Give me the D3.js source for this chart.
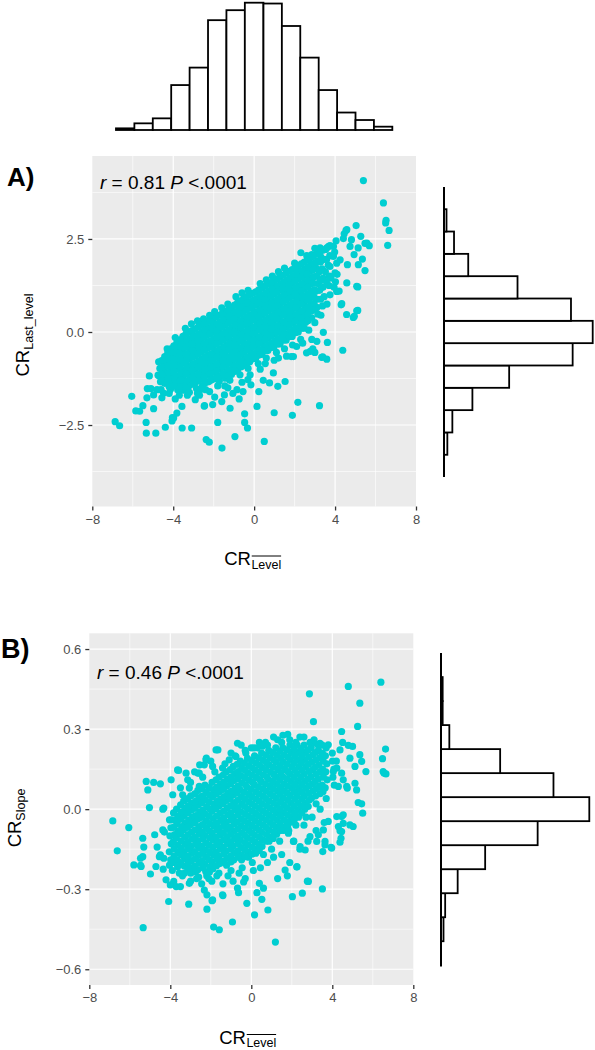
<!DOCTYPE html>
<html><head><meta charset="utf-8">
<script src="https://cdn.jsdelivr.net/npm/d3@7"></script>
<style>body{margin:0;background:#fff}svg{display:block}</style>
</head><body><svg id="c" width="595" height="1050"></svg>
<script>
// ---------- data ----------
const xTicks = [-8, -4, 0, 4, 8];
const xMinor = [-6, -2, 2, 6];
const yTicksA = [-2.5, 0, 2.5];
const yMinorA = [-3.75, -1.25, 1.25, 3.75];
const yTicksB = [-0.6, -0.3, 0, 0.3, 0.6];
const yMinorB = [-0.45, -0.15, 0.15, 0.45];

const topHistEdges = [-6.83,-5.92,-5.01,-4.10,-3.19,-2.28,-1.37,-0.46,0.46,1.37,2.28,3.19,4.10,5.01,5.92,6.83];
const topHistCounts = [2,8,14,54,75,132,144,153,152,125,87,48,21,12,4];

const histACenters = [-3.0,-2.4,-1.8,-1.2,-0.6,0,0.6,1.2,1.8,2.4,3.0];
const histACounts = [4,10,34,78,154,178,152,88,29,12,3];
const histBCenters = [-0.45,-0.36,-0.27,-0.18,-0.09,0,0.09,0.18,0.27,0.36,0.45];
const histBCounts = [3,5,20,53,116,178,135,71,10,2,2];

const annotA = {r: "0.81", p: "<.0001"};
const annotB = {r: "0.46", p: "<.0001"};

// panel A points: CR_Level (x) vs CR_Last_level (y)
const ptsA = [
[-4.72,-0.8],[-4.66,-0.98],[-4.75,-1.16],[-4.63,-1.34],
[-4.42,-0.66],[-4.36,-0.84],[-4.45,-1.02],[-4.38,-1.2],[-4.43,-1.38],
[-4.12,-0.45],[-4.06,-0.63],[-4.14,-0.81],[-4.08,-0.99],[-4.11,-1.17],[-4.05,-1.35],[-4.13,-1.52],
[-3.82,-0.28],[-3.77,-0.46],[-3.84,-0.64],[-3.79,-0.82],[-3.81,-1.0],[-3.76,-1.18],[-3.83,-1.36],[-3.78,-1.55],
[-3.52,-0.12],[-3.47,-0.3],[-3.53,-0.48],[-3.49,-0.66],[-3.51,-0.84],[-3.46,-1.02],[-3.54,-1.2],[-3.48,-1.38],[-3.5,-1.56],
[-3.22,0.0],[-3.17,-0.18],[-3.23,-0.36],[-3.19,-0.54],[-3.21,-0.72],[-3.16,-0.9],[-3.24,-1.08],[-3.18,-1.26],[-3.2,-1.44],
[-2.92,0.08],[-2.87,-0.1],[-2.93,-0.28],[-2.89,-0.46],[-2.91,-0.64],[-2.86,-0.82],[-2.94,-1.0],[-2.88,-1.18],[-2.9,-1.36],[-2.85,-1.52],
[-2.62,0.18],[-2.57,0.0],[-2.63,-0.18],[-2.59,-0.36],[-2.61,-0.54],[-2.56,-0.72],[-2.64,-0.9],[-2.58,-1.08],[-2.6,-1.26],[-2.55,-1.44],
[-2.32,0.28],[-2.27,0.1],[-2.33,-0.08],[-2.29,-0.26],[-2.31,-0.44],[-2.26,-0.62],[-2.34,-0.8],[-2.28,-0.98],[-2.3,-1.16],[-2.25,-1.34],
[-2.02,0.36],[-1.97,0.18],[-2.03,0.0],[-1.99,-0.18],[-2.01,-0.36],[-1.96,-0.54],[-2.04,-0.72],[-1.98,-0.9],[-2.0,-1.08],[-1.95,-1.26],
[-1.72,0.45],[-1.67,0.27],[-1.73,0.09],[-1.69,-0.09],[-1.71,-0.27],[-1.66,-0.45],[-1.74,-0.63],[-1.68,-0.81],[-1.7,-0.99],[-1.65,-1.17],[-1.72,-1.32],
[-1.42,0.55],[-1.37,0.37],[-1.43,0.19],[-1.39,0.01],[-1.41,-0.17],[-1.36,-0.35],[-1.44,-0.53],[-1.38,-0.71],[-1.4,-0.89],[-1.35,-1.07],[-1.42,-1.24],
[-1.12,0.66],[-1.07,0.48],[-1.13,0.3],[-1.09,0.12],[-1.11,-0.06],[-1.06,-0.24],[-1.14,-0.42],[-1.08,-0.6],[-1.1,-0.78],[-1.05,-0.96],[-1.12,-1.14],
[-0.82,0.78],[-0.77,0.6],[-0.83,0.42],[-0.79,0.24],[-0.81,0.06],[-0.76,-0.12],[-0.84,-0.3],[-0.78,-0.48],[-0.8,-0.66],[-0.75,-0.84],[-0.82,-1.02],
[-0.52,0.9],[-0.47,0.72],[-0.53,0.54],[-0.49,0.36],[-0.51,0.18],[-0.46,0.0],[-0.54,-0.18],[-0.48,-0.36],[-0.5,-0.54],[-0.45,-0.72],[-0.52,-0.9],
[-0.22,1.0],[-0.17,0.82],[-0.23,0.64],[-0.19,0.46],[-0.21,0.28],[-0.16,0.1],[-0.24,-0.08],[-0.18,-0.26],[-0.2,-0.44],[-0.15,-0.62],[-0.22,-0.8],
[0.08,1.08],[0.13,0.9],[0.07,0.72],[0.11,0.54],[0.09,0.36],[0.14,0.18],[0.06,0.0],[0.12,-0.18],[0.1,-0.36],[0.15,-0.54],[0.08,-0.7],
[0.38,1.18],[0.43,1.0],[0.37,0.82],[0.41,0.64],[0.39,0.46],[0.44,0.28],[0.36,0.1],[0.42,-0.08],[0.4,-0.26],[0.45,-0.44],[0.38,-0.6],
[0.68,1.28],[0.73,1.1],[0.67,0.92],[0.71,0.74],[0.69,0.56],[0.74,0.38],[0.66,0.2],[0.72,0.02],[0.7,-0.16],[0.75,-0.34],[0.68,-0.5],
[0.98,1.38],[1.03,1.2],[0.97,1.02],[1.01,0.84],[0.99,0.66],[1.04,0.48],[0.96,0.3],[1.02,0.12],[1.0,-0.06],[1.05,-0.24],[0.98,-0.4],
[1.28,1.48],[1.33,1.3],[1.27,1.12],[1.31,0.94],[1.29,0.76],[1.34,0.58],[1.26,0.4],[1.32,0.22],[1.3,0.04],[1.35,-0.14],[1.28,-0.32],
[1.58,1.58],[1.63,1.4],[1.57,1.22],[1.61,1.04],[1.59,0.86],[1.64,0.68],[1.56,0.5],[1.62,0.32],[1.6,0.14],[1.65,-0.04],[1.58,-0.22],
[1.88,1.68],[1.93,1.5],[1.87,1.32],[1.91,1.14],[1.89,0.96],[1.94,0.78],[1.86,0.6],[1.92,0.42],[1.9,0.24],[1.95,0.06],[1.88,-0.12],
[2.18,1.78],[2.23,1.6],[2.17,1.42],[2.21,1.24],[2.19,1.06],[2.24,0.88],[2.16,0.7],[2.22,0.52],[2.2,0.34],[2.25,0.16],[2.18,0.0],
[2.48,1.88],[2.53,1.7],[2.47,1.52],[2.51,1.34],[2.49,1.16],[2.54,0.98],[2.46,0.8],[2.52,0.62],[2.5,0.44],[2.55,0.26],[2.48,0.1],
[2.78,2.0],[2.83,1.82],[2.77,1.64],[2.81,1.46],[2.79,1.28],[2.84,1.1],[2.76,0.92],[2.82,0.74],[2.8,0.56],[2.85,0.38],
[3.08,2.1],[3.13,1.9],[3.07,1.72],[3.11,1.5],[3.16,1.3],[3.06,1.1],[3.12,0.88],[3.1,0.66],[3.15,0.48],
[3.38,2.2],[3.45,1.95],[3.36,1.7],[3.42,1.45],[3.4,1.2],[3.46,0.95],[3.38,0.7],
[3.68,2.3],[3.74,2.05],[3.66,1.8],[3.72,1.5],[3.7,1.25],[3.75,1.0],
[4.05,2.45],[3.98,2.15],[4.08,1.85],[4.02,1.35],
[-6.87,-2.41],[-6.65,-2.52],[-6.05,-1.73],[-5.85,-2.12],[-5.34,-2.43],[-5.33,-2.72],[-4.86,-2.72],[-4.39,-2.56],[-4.06,-2.39],[-4.04,-2.3],
[-3.56,-2.58],[-3.09,-2.58],[-2.37,-2.89],[-2.22,-2.96],[-1.59,-3.12],[-1.8,-2.43],[-0.95,-2.81],[-0.47,-2.2],[-0.33,-2.58],[-0.47,-2.43],
[0.14,-2.0],[0.5,-2.94],[0.99,-2.17],[1.89,-2.24],[2.16,-1.89],[3.23,-1.98],[-2.47,-1.99],
[-4.51,-0.78],[-3.1,0.22],[-3.62,-0.23],[-3.11,-0.36],[-4.31,-0.92],[-5.18,-1.18],[-5.28,-1.52],[-5.1,-1.52],[-4.67,-1.19],[-4.8,-1.55],
[-4.97,-1.69],[-4.15,-1.55],[-4.48,-1.64],[-4.56,-1.77],[-5.3,-1.77],[-4.97,-2.06],[-5.5,-1.98],[-5.66,-2.13],[-3.57,-1.55],[-3.57,-2.0],
[-3.82,-2.18],[-3.98,-2.31],[-2.67,-1.55],[-2.91,-1.82],[-2.45,-1.98],[-1.6,-1.87],[-1.47,-1.69],[-1.19,-2.05],[-0.74,-1.8],[-0.31,-1.28],
[-0.16,-1.42],[0.23,-1.6],[0.76,-1.37],[1.17,-1.46],[1.53,-1.33],[0.99,-0.76],[1.94,-0.66],[2.1,-0.39],[2.59,-0.56],[2.77,-0.52],
[1.83,-0.66],[2.85,-0.2],[3.1,-0.25],[2.9,-0.45],[3.0,-0.55],[3.39,-0.67],[3.59,-0.73],[3.34,-0.68],[3.42,-0.01],[3.62,-0.28],
[4.38,-0.49],[4.3,0.73],[5.07,0.57],[4.57,0.47],[4.9,0.39],[4.95,0.42],[5.12,0.58],[4.33,0.76],[5.07,1.23],[5.12,1.21],
[4.58,1.32],[5.15,1.81],[5.35,1.96],[5.48,1.65],[4.61,1.81],[5.27,2.57],[5.48,2.38],[5.69,2.32],[5.57,2.39],[5.04,2.86],
[4.58,2.75],[4.45,2.64],[4.41,2.51],[4.54,2.73],[4.81,2.48],[5.14,2.26],[4.74,2.3],[4.94,2.08],[5.40,4.07],[6.39,3.47],
[6.52,3.0],[6.5,2.93],[6.67,2.73],[6.6,2.33],
[2.31,2.13],[2.85,2.08],[3.29,2.02],[3.75,2.32],[3.59,2.26],[3.26,2.26],[3.92,2.3],[3.92,2.03],[3.75,1.76],[4.25,1.94],
[4.0,1.59],[3.75,1.49],[3.8,1.45],[4.1,1.55],[3.95,1.2],[4.2,1.1],[4.08,1.09],
[-2.2,-1.6],[-1.95,-1.75],[-1.3,-1.5],[-1.05,-1.65],[-0.85,-1.55],[-0.6,-1.35],[-0.2,-1.15],[0.3,-1.0],[0.55,-0.85],[1.2,-0.7],
[1.6,-0.65],[2.4,-0.3],[-3.3,-1.7],[-2.7,-1.7],[-3.9,-1.8],[-2.05,-1.95],[0.95,-1.1],[0.45,-1.3],[-0.55,-1.6],[-1.45,-1.45]
];
// panel A, second set of points inside the dense band
const ptsAFill = [
[-4.57,-0.77],[-4.52,-0.95],[-4.58,-1.13],[-4.53,-1.31],
[-4.27,-0.56],[-4.22,-0.74],[-4.28,-0.92],[-4.23,-1.1],[-4.26,-1.28],[-4.21,-1.46],
[-3.97,-0.37],[-3.92,-0.55],[-3.98,-0.73],[-3.93,-0.91],[-3.96,-1.09],[-3.91,-1.27],[-3.95,-1.45],
[-3.67,-0.21],[-3.62,-0.39],[-3.68,-0.57],[-3.63,-0.75],[-3.66,-0.93],[-3.61,-1.11],[-3.65,-1.29],[-3.64,-1.47],
[-3.37,-0.05],[-3.32,-0.23],[-3.38,-0.41],[-3.33,-0.59],[-3.36,-0.77],[-3.31,-0.95],[-3.35,-1.13],[-3.34,-1.31],[-3.36,-1.49],
[-3.07,0.04],[-3.02,-0.14],[-3.08,-0.32],[-3.03,-0.5],[-3.06,-0.68],[-3.01,-0.86],[-3.05,-1.04],[-3.04,-1.22],[-3.06,-1.4],
[-2.77,0.13],[-2.72,-0.05],[-2.78,-0.23],[-2.73,-0.41],[-2.76,-0.59],[-2.71,-0.77],[-2.75,-0.95],[-2.74,-1.13],[-2.76,-1.31],
[-2.47,0.23],[-2.42,0.05],[-2.48,-0.13],[-2.43,-0.31],[-2.46,-0.49],[-2.41,-0.67],[-2.45,-0.85],[-2.44,-1.03],[-2.46,-1.21],[-2.43,-1.37],
[-2.17,0.31],[-2.12,0.13],[-2.18,-0.05],[-2.13,-0.23],[-2.16,-0.41],[-2.11,-0.59],[-2.15,-0.77],[-2.14,-0.95],[-2.16,-1.13],[-2.13,-1.3],
[-1.87,0.4],[-1.82,0.22],[-1.88,0.04],[-1.83,-0.14],[-1.86,-0.32],[-1.81,-0.5],[-1.85,-0.68],[-1.84,-0.86],[-1.86,-1.04],[-1.83,-1.22],
[-1.57,0.5],[-1.52,0.32],[-1.58,0.14],[-1.53,-0.04],[-1.56,-0.22],[-1.51,-0.4],[-1.55,-0.58],[-1.54,-0.76],[-1.56,-0.94],[-1.53,-1.12],
[-1.27,0.6],[-1.22,0.42],[-1.28,0.24],[-1.23,0.06],[-1.26,-0.12],[-1.21,-0.3],[-1.25,-0.48],[-1.24,-0.66],[-1.26,-0.84],[-1.23,-1.02],[-1.25,-1.18],
[-0.97,0.72],[-0.92,0.54],[-0.98,0.36],[-0.93,0.18],[-0.96,0.0],[-0.91,-0.18],[-0.95,-0.36],[-0.94,-0.54],[-0.96,-0.72],[-0.93,-0.9],[-0.95,-1.06],
[-0.67,0.84],[-0.62,0.66],[-0.68,0.48],[-0.63,0.3],[-0.66,0.12],[-0.61,-0.06],[-0.65,-0.24],[-0.64,-0.42],[-0.66,-0.6],[-0.63,-0.78],[-0.65,-0.94],
[-0.37,0.95],[-0.32,0.77],[-0.38,0.59],[-0.33,0.41],[-0.36,0.23],[-0.31,0.05],[-0.35,-0.13],[-0.34,-0.31],[-0.36,-0.49],[-0.33,-0.67],[-0.35,-0.83],
[-0.07,1.04],[-0.02,0.86],[-0.08,0.68],[-0.03,0.5],[-0.06,0.32],[-0.01,0.14],[-0.05,-0.04],[-0.04,-0.22],[-0.06,-0.4],[-0.03,-0.58],[-0.05,-0.72],
[0.23,1.13],[0.28,0.95],[0.22,0.77],[0.27,0.59],[0.24,0.41],[0.29,0.23],[0.25,0.05],[0.26,-0.13],[0.24,-0.31],[0.27,-0.49],[0.25,-0.62],
[0.53,1.23],[0.58,1.05],[0.52,0.87],[0.57,0.69],[0.54,0.51],[0.59,0.33],[0.55,0.15],[0.56,-0.03],[0.54,-0.21],[0.57,-0.39],[0.55,-0.5],
[0.83,1.33],[0.88,1.15],[0.82,0.97],[0.87,0.79],[0.84,0.61],[0.89,0.43],[0.85,0.25],[0.86,0.07],[0.84,-0.11],[0.87,-0.29],[0.85,-0.42],
[1.13,1.43],[1.18,1.25],[1.12,1.07],[1.17,0.89],[1.14,0.71],[1.19,0.53],[1.15,0.35],[1.16,0.17],[1.14,-0.01],[1.17,-0.19],[1.15,-0.32],
[1.43,1.53],[1.48,1.35],[1.42,1.17],[1.47,0.99],[1.44,0.81],[1.49,0.63],[1.45,0.45],[1.46,0.27],[1.44,0.09],[1.47,-0.09],[1.45,-0.22],
[1.73,1.63],[1.78,1.45],[1.72,1.27],[1.77,1.09],[1.74,0.91],[1.79,0.73],[1.75,0.55],[1.76,0.37],[1.74,0.19],[1.77,0.01],[1.75,-0.12],
[2.03,1.73],[2.08,1.55],[2.02,1.37],[2.07,1.19],[2.04,1.01],[2.09,0.83],[2.05,0.65],[2.06,0.47],[2.04,0.29],[2.07,0.11],[2.05,-0.02],
[2.33,1.83],[2.38,1.65],[2.32,1.47],[2.37,1.29],[2.34,1.11],[2.39,0.93],[2.35,0.75],[2.36,0.57],[2.34,0.39],[2.37,0.21],[2.35,0.1],
[2.63,1.93],[2.68,1.75],[2.62,1.57],[2.67,1.39],[2.64,1.21],[2.69,1.03],[2.65,0.85],[2.66,0.67],[2.64,0.49],[2.67,0.31],
[2.93,2.03],[2.98,1.85],[2.92,1.67],[2.97,1.49],[2.94,1.31],[2.99,1.13],[2.95,0.95],[2.96,0.77],[2.94,0.59],
[3.23,2.12],[3.28,1.88],[3.22,1.62],[3.27,1.38],[3.24,1.12],[3.29,0.88],
[3.53,2.22],[3.58,1.95],[3.52,1.62],[3.57,1.35]
];
// panel A, ragged points along the edges of the band
const ptsAEdge = [
[-4.3,-0.45],[-3.9,-0.15],[-3.4,0.1],[-2.8,0.3],[-2.2,0.45],[-1.6,0.65],[-1.3,0.75],[-0.9,0.95],[-0.6,1.05],[-0.3,1.12],
[0.3,1.3],[0.9,1.5],[1.5,1.72],[2.0,1.85],[2.6,2.05],[3.0,2.25],[-2.5,0.35],[-1.95,0.55],[0.6,1.4],[1.2,1.62],
[-4.6,-1.55],[-4.2,-1.65],[-3.7,-1.7],[-3.2,-1.62],[-2.8,-1.65],[-2.4,-1.55],[-1.8,-1.45],[-1.2,-1.3],[-0.7,-1.15],[-0.3,-0.98],
[0.2,-0.85],[0.6,-0.7],[1.1,-0.55],[1.5,-0.45],[1.9,-0.35],[2.3,-0.2],[2.7,0.05],[3.0,0.25],[3.3,0.45],[3.6,0.75]
];

// panel B points: CR_Level (x) vs CR_Slope (y)
const ptsB = [
[-4.04,-0.04],[-3.97,-0.07],[-4.02,-0.1],[-3.95,-0.13],[-4.05,-0.16],[-3.98,-0.19],
[-3.69,0.0],[-3.62,-0.027],[-3.67,-0.054],[-3.6,-0.081],[-3.7,-0.108],[-3.63,-0.135],[-3.61,-0.162],[-3.68,-0.189],[-3.64,-0.216],
[-3.34,0.03],[-3.27,0.003],[-3.32,-0.024],[-3.25,-0.051],[-3.35,-0.078],[-3.28,-0.105],[-3.26,-0.132],[-3.33,-0.159],[-3.29,-0.186],[-3.31,-0.213],
[-2.99,0.05],[-2.92,0.023],[-2.97,-0.004],[-2.9,-0.031],[-3.0,-0.058],[-2.93,-0.085],[-2.91,-0.112],[-2.98,-0.139],[-2.94,-0.166],[-2.96,-0.193],[-2.92,-0.22],[-2.99,-0.24],
[-2.64,0.07],[-2.57,0.043],[-2.62,0.016],[-2.55,-0.011],[-2.65,-0.038],[-2.58,-0.065],[-2.56,-0.092],[-2.63,-0.119],[-2.59,-0.146],[-2.61,-0.173],[-2.57,-0.2],[-2.64,-0.227],
[-2.29,0.09],[-2.22,0.063],[-2.27,0.036],[-2.2,0.009],[-2.3,-0.018],[-2.23,-0.045],[-2.21,-0.072],[-2.28,-0.099],[-2.24,-0.126],[-2.26,-0.153],[-2.22,-0.18],[-2.29,-0.207],[-2.25,-0.234],
[-1.94,0.1],[-1.87,0.073],[-1.92,0.046],[-1.85,0.019],[-1.95,-0.008],[-1.88,-0.035],[-1.86,-0.062],[-1.93,-0.089],[-1.89,-0.116],[-1.91,-0.143],[-1.87,-0.17],[-1.94,-0.197],[-1.9,-0.224],
[-1.59,0.12],[-1.52,0.093],[-1.57,0.066],[-1.5,0.039],[-1.6,0.012],[-1.53,-0.015],[-1.51,-0.042],[-1.58,-0.069],[-1.54,-0.096],[-1.56,-0.123],[-1.52,-0.15],[-1.59,-0.177],[-1.55,-0.204],
[-1.24,0.14],[-1.17,0.113],[-1.22,0.086],[-1.15,0.059],[-1.25,0.032],[-1.18,0.005],[-1.16,-0.022],[-1.23,-0.049],[-1.19,-0.076],[-1.21,-0.103],[-1.17,-0.13],[-1.24,-0.157],[-1.2,-0.184],[-1.22,-0.21],
[-0.89,0.16],[-0.82,0.133],[-0.87,0.106],[-0.8,0.079],[-0.9,0.052],[-0.83,0.025],[-0.81,-0.002],[-0.88,-0.029],[-0.84,-0.056],[-0.86,-0.083],[-0.82,-0.11],[-0.89,-0.137],[-0.85,-0.164],[-0.87,-0.191],
[-0.54,0.18],[-0.47,0.153],[-0.52,0.126],[-0.45,0.099],[-0.55,0.072],[-0.48,0.045],[-0.46,0.018],[-0.53,-0.009],[-0.49,-0.036],[-0.51,-0.063],[-0.47,-0.09],[-0.54,-0.117],[-0.5,-0.144],[-0.52,-0.171],[-0.48,-0.19],
[-0.19,0.19],[-0.12,0.163],[-0.17,0.136],[-0.1,0.109],[-0.2,0.082],[-0.13,0.055],[-0.11,0.028],[-0.18,0.001],[-0.14,-0.026],[-0.16,-0.053],[-0.12,-0.08],[-0.19,-0.107],[-0.15,-0.134],[-0.17,-0.161],[-0.13,-0.18],
[0.16,0.2],[0.23,0.173],[0.18,0.146],[0.25,0.119],[0.15,0.092],[0.22,0.065],[0.24,0.038],[0.17,0.011],[0.21,-0.016],[0.19,-0.043],[0.23,-0.07],[0.16,-0.097],[0.2,-0.124],[0.18,-0.151],[0.22,-0.165],
[0.51,0.21],[0.58,0.183],[0.53,0.156],[0.6,0.129],[0.5,0.102],[0.57,0.075],[0.59,0.048],[0.52,0.021],[0.56,-0.006],[0.54,-0.033],[0.58,-0.06],[0.51,-0.087],[0.55,-0.114],[0.53,-0.14],
[0.86,0.22],[0.93,0.193],[0.88,0.166],[0.95,0.139],[0.85,0.112],[0.92,0.085],[0.94,0.058],[0.87,0.031],[0.91,0.004],[0.89,-0.023],[0.93,-0.05],[0.86,-0.077],[0.9,-0.104],[0.88,-0.12],
[1.21,0.23],[1.28,0.203],[1.23,0.176],[1.3,0.149],[1.2,0.122],[1.27,0.095],[1.29,0.068],[1.22,0.041],[1.26,0.014],[1.24,-0.013],[1.28,-0.04],[1.21,-0.067],[1.25,-0.094],
[1.56,0.23],[1.63,0.203],[1.58,0.176],[1.65,0.149],[1.55,0.122],[1.62,0.095],[1.64,0.068],[1.57,0.041],[1.61,0.014],[1.59,-0.013],[1.63,-0.04],[1.56,-0.067],[1.6,-0.08],
[1.91,0.24],[1.98,0.213],[1.93,0.186],[2.0,0.159],[1.9,0.132],[1.97,0.105],[1.99,0.078],[1.92,0.051],[1.96,0.024],[1.94,-0.003],[1.98,-0.03],[1.91,-0.05],
[2.26,0.24],[2.33,0.213],[2.28,0.186],[2.35,0.159],[2.25,0.132],[2.32,0.105],[2.34,0.078],[2.27,0.051],[2.31,0.024],[2.29,-0.003],[2.33,-0.03],
[2.61,0.24],[2.68,0.213],[2.63,0.186],[2.7,0.159],[2.6,0.132],[2.67,0.105],[2.69,0.078],[2.62,0.051],[2.66,0.024],[2.64,0.0],
[2.96,0.23],[3.03,0.203],[2.98,0.176],[3.05,0.149],[2.95,0.122],[3.02,0.095],[3.04,0.068],[2.97,0.041],
[3.31,0.22],[3.38,0.193],[3.33,0.166],[3.4,0.139],[3.3,0.112],[3.37,0.085],[3.39,0.058],
[3.66,0.2],[3.73,0.17],[3.68,0.14],[3.75,0.11],[3.65,0.08],
[4.01,0.18],[4.08,0.15],[4.03,0.12],[4.1,0.09],
[-6.84,-0.044],[-6.62,-0.156],[-6.05,-0.069],[-5.8,-0.209],[-5.47,-0.211],[-5.34,-0.444],[-5.36,-0.109],[-5.31,-0.142],[-5.47,-0.184],[-4.98,-0.243],
[-5.19,0.104],[-5.11,0.072],[-5.03,0.006],[-4.77,-0.096],[-4.65,-0.142],[-4.49,-0.171],[-4.32,-0.184],[-4.35,-0.225],[-4.29,-0.086],[-4.32,0.004],
[-4.49,0.095],[-4.82,0.1],[-4.08,-0.346],[-4.0,-0.284],[-3.83,-0.271],[-3.5,-0.29],[-3.09,-0.356],[-2.19,-0.375],[-1.86,-0.442],[-1.58,-0.452],
[-0.93,-0.423],[-0.22,-0.353],[0.16,-0.396],[0.82,-0.378],[1.19,-0.498],[2.03,-0.328],[2.52,-0.315],[2.77,-0.27],[3.51,-0.299],[1.78,-0.25],
[2.25,-0.217],[-1.4,-0.324],[-1.94,-0.343],[-2.19,-0.321],[-0.68,-0.296],[-0.63,-0.313],[-0.38,-0.273],[0.28,-0.313],[0.52,-0.338],[0.6,-0.296],
[0.4,-0.278],[3.53,-0.159],[3.64,-0.121],[3.94,-0.143],[4.43,-0.109],[4.38,-0.081],[4.54,-0.053],[4.87,-0.059],[5.03,-0.065],[4.46,-0.028],
[5.45,0.02],[5.5,-0.015],[5.28,0.025],[6.51,0.141],[6.65,0.132],
[2.87,0.432],[3.07,0.328],[4.79,0.46],[6.4,0.476],[5.36,0.397],[5.25,0.31],[6.63,0.225],[6.48,0.189],[6.56,0.135],[4.46,0.291],
[4.51,0.25],[4.79,0.239],[5.0,0.235],[4.38,0.222],[4.87,0.191],[5.36,0.204],[5.12,0.16],[5.66,0.141],[5.45,0.179],[1.56,0.277],
[-0.68,0.247],[-1.65,0.222],[-2.22,0.191],[-2.55,0.166],[-2.63,0.135],[-3.59,0.145],[3.8,0.241],[3.39,0.247],[3.03,0.247],
[-2.24,0.185],[-2.32,0.166],[-1.91,0.16],[-1.74,0.222],[-1.42,0.154],[-1.09,0.185],[-0.76,0.197],[-0.27,0.21],[0.14,0.23],[0.55,0.236],
[-3.64,0.147],[-3.22,0.135],[-3.14,0.11],[-3.96,0.11],[-3.88,0.054],[-3.39,0.054],[-3.06,0.079],[-2.57,0.135],[-2.57,0.085],[-4.37,0.0],
[-3.96,-0.04],[-4.37,-0.078],[-4.04,-0.21],[-3.55,-0.24],[-1.91,-0.34],[-1.42,-0.321],[-2.32,-0.303],[-3.06,-0.278],[-3.71,-0.29],[-4.21,-0.265],
[-4.71,-0.215],[-4.54,-0.178],[-5.36,-0.178],[-5.44,-0.215],
[-3.4,-0.25],[-3.0,-0.27],[-2.7,-0.26],[-2.45,-0.28],[-2.2,-0.25],[-1.95,-0.27],[-1.7,-0.25],[-1.4,-0.28],[-1.15,-0.25],[-0.9,-0.27],
[-0.6,-0.24],[-0.3,-0.26],[0.1,-0.23],[0.45,-0.22],[0.8,-0.2],[1.1,-0.18],[1.5,-0.17],[1.9,-0.2],[2.4,-0.15],[2.8,-0.12],
[3.2,-0.08],[3.6,-0.05],[1.3,-0.26],[2.1,-0.12],[2.6,-0.06],[3.0,-0.03],[3.4,0.0],
[4.22,0.154],[4.46,0.135],[4.05,0.141],[4.3,0.085],[4.54,0.11],[4.71,0.085],[5.2,0.072],[5.12,0.097],[4.74,0.079],[4.22,-0.028],
[4.54,-0.021],[4.3,-0.065],[4.46,-0.084],[4.38,-0.124],[3.8,-0.046],[3.56,-0.078],[3.31,-0.096],[3.23,-0.121],[3.64,-0.134],[3.97,-0.146],
[2.9,-0.103],[2.66,-0.153],[2.41,-0.14],[2.08,-0.121],[1.83,-0.09],[1.42,-0.078],[2.25,-0.215],[1.67,-0.228],[2.82,-0.271],
[-1.0,0.21],[-0.5,0.24],[0.0,0.23],[0.4,0.25],[0.8,0.24],[1.1,0.27],[1.5,0.25],[1.9,0.26],[2.2,0.25],[2.6,0.27],
[2.9,0.25],[3.3,0.24],[3.7,0.23],[-2.0,0.18],[-2.8,0.14],[1.8,0.28]
];
// panel B, second set of points inside the dense cloud
const ptsBFill = [
[-3.84,-0.014],[-3.8,-0.041],[-3.83,-0.068],[-3.79,-0.095],[-3.85,-0.122],[-3.81,-0.149],[-3.82,-0.176],[-3.8,-0.2],
[-3.49,0.016],[-3.45,-0.011],[-3.48,-0.038],[-3.44,-0.065],[-3.5,-0.092],[-3.46,-0.119],[-3.47,-0.146],[-3.45,-0.173],[-3.49,-0.2],
[-3.14,0.04],[-3.1,0.013],[-3.13,-0.014],[-3.09,-0.041],[-3.15,-0.068],[-3.11,-0.095],[-3.12,-0.122],[-3.1,-0.149],[-3.14,-0.176],[-3.11,-0.203],[-3.13,-0.225],
[-2.79,0.057],[-2.75,0.03],[-2.78,0.003],[-2.74,-0.024],[-2.8,-0.051],[-2.76,-0.078],[-2.77,-0.105],[-2.75,-0.132],[-2.79,-0.159],[-2.76,-0.186],[-2.78,-0.213],[-2.75,-0.235],
[-2.44,0.077],[-2.4,0.05],[-2.43,0.023],[-2.39,-0.004],[-2.45,-0.031],[-2.41,-0.058],[-2.42,-0.085],[-2.4,-0.112],[-2.44,-0.139],[-2.41,-0.166],[-2.43,-0.193],[-2.4,-0.22],
[-2.09,0.081],[-2.05,0.054],[-2.08,0.027],[-2.04,0.0],[-2.1,-0.027],[-2.06,-0.054],[-2.07,-0.081],[-2.05,-0.108],[-2.09,-0.135],[-2.06,-0.162],[-2.08,-0.189],[-2.05,-0.216],[-2.07,-0.236],
[-1.74,0.11],[-1.7,0.083],[-1.73,0.056],[-1.69,0.029],[-1.75,0.002],[-1.71,-0.025],[-1.72,-0.052],[-1.7,-0.079],[-1.74,-0.106],[-1.71,-0.133],[-1.73,-0.16],[-1.7,-0.187],[-1.72,-0.212],
[-1.39,0.128],[-1.35,0.101],[-1.38,0.074],[-1.34,0.047],[-1.4,0.02],[-1.36,-0.007],[-1.37,-0.034],[-1.35,-0.061],[-1.39,-0.088],[-1.36,-0.115],[-1.38,-0.142],[-1.35,-0.169],[-1.37,-0.196],
[-1.04,0.148],[-1.0,0.121],[-1.03,0.094],[-0.99,0.067],[-1.05,0.04],[-1.01,0.013],[-1.02,-0.014],[-1.0,-0.041],[-1.04,-0.068],[-1.01,-0.095],[-1.03,-0.122],[-1.0,-0.149],[-1.02,-0.176],[-1.01,-0.198],
[-0.69,0.168],[-0.65,0.141],[-0.68,0.114],[-0.64,0.087],[-0.7,0.06],[-0.66,0.033],[-0.67,0.006],[-0.65,-0.021],[-0.69,-0.048],[-0.66,-0.075],[-0.68,-0.102],[-0.65,-0.129],[-0.67,-0.156],[-0.66,-0.18],
[-0.34,0.172],[-0.3,0.145],[-0.33,0.118],[-0.29,0.091],[-0.35,0.064],[-0.31,0.037],[-0.32,0.01],[-0.3,-0.017],[-0.34,-0.044],[-0.31,-0.071],[-0.33,-0.098],[-0.3,-0.125],[-0.32,-0.152],[-0.31,-0.178],
[0.01,0.182],[0.05,0.155],[0.02,0.128],[0.06,0.101],[0.0,0.074],[0.04,0.047],[0.03,0.02],[0.05,-0.007],[0.01,-0.034],[0.04,-0.061],[0.02,-0.088],[0.05,-0.115],[0.03,-0.142],[0.04,-0.168],
[0.36,0.192],[0.4,0.165],[0.37,0.138],[0.41,0.111],[0.35,0.084],[0.39,0.057],[0.38,0.03],[0.4,0.003],[0.36,-0.024],[0.39,-0.051],[0.37,-0.078],[0.4,-0.105],[0.38,-0.132],[0.39,-0.155],
[0.71,0.202],[0.75,0.175],[0.72,0.148],[0.76,0.121],[0.7,0.094],[0.74,0.067],[0.73,0.04],[0.75,0.013],[0.71,-0.014],[0.74,-0.041],[0.72,-0.068],[0.75,-0.095],[0.73,-0.12],
[1.06,0.212],[1.1,0.185],[1.07,0.158],[1.11,0.131],[1.05,0.104],[1.09,0.077],[1.08,0.05],[1.1,0.023],[1.06,-0.004],[1.09,-0.031],[1.07,-0.058],[1.1,-0.085],[1.08,-0.11],
[1.41,0.217],[1.45,0.19],[1.42,0.163],[1.46,0.136],[1.4,0.109],[1.44,0.082],[1.43,0.055],[1.45,0.028],[1.41,0.001],[1.44,-0.026],[1.42,-0.053],[1.45,-0.08],
[1.76,0.222],[1.8,0.195],[1.77,0.168],[1.81,0.141],[1.75,0.114],[1.79,0.087],[1.78,0.06],[1.8,0.033],[1.76,0.006],[1.79,-0.021],[1.77,-0.048],[1.8,-0.068],
[2.11,0.227],[2.15,0.2],[2.12,0.173],[2.16,0.146],[2.1,0.119],[2.14,0.092],[2.13,0.065],[2.15,0.038],[2.11,0.011],[2.14,-0.016],[2.12,-0.04],
[2.46,0.227],[2.5,0.2],[2.47,0.173],[2.51,0.146],[2.45,0.119],[2.49,0.092],[2.48,0.065],[2.5,0.038],[2.46,0.011],[2.49,-0.015],
[2.81,0.222],[2.85,0.195],[2.82,0.168],[2.86,0.141],[2.8,0.114],[2.84,0.087],[2.83,0.06],[2.85,0.033],[2.81,0.01],
[3.16,0.212],[3.2,0.185],[3.17,0.158],[3.21,0.131],[3.15,0.104],[3.19,0.077],[3.18,0.05],
[3.51,0.21],[3.55,0.18],[3.52,0.15],[3.56,0.12],[3.5,0.09],[3.54,0.065]
];
// panel B, ragged points along the edges of the cloud
const ptsBEdge = [
[-3.5,0.08],[-3.0,0.1],[-2.4,0.12],[-1.8,0.14],[-1.3,0.17],[-0.8,0.2],[-0.3,0.22],[0.3,0.23],[0.7,0.25],[1.3,0.26],
[2.4,0.27],[3.1,0.26],[3.5,0.24],[4.0,0.21],[4.2,0.18],
[-3.9,-0.23],[-3.3,-0.24],[-2.6,-0.255],[-2.1,-0.26],[-1.6,-0.24],[-1.0,-0.23],[-0.45,-0.22],[0.05,-0.2],[0.6,-0.17],[1.0,-0.15],
[1.4,-0.12],[1.85,-0.08],[2.2,-0.06],[2.7,-0.03],[3.2,0.02],[3.7,0.04]
];

// ---------- drawing ----------
const FONT = "'Liberation Sans', Arial, Helvetica, sans-serif";
const PT = "#00CED1";
const svg = d3.select("#c");
svg.append("rect").attr("width",595).attr("height",1050).attr("fill","#fff");

const xA = d3.scaleLinear().domain([-8,8]).range([92.3,416]);
const yA = d3.scaleLinear().domain([-4.69,4.73]).range([506.5,156]);
const xB = d3.scaleLinear().domain([-8,8]).range([89.3,413.3]);
const yB = d3.scaleLinear().domain([-0.659,0.659]).range([985,633.3]);

function panel(x, y, yTicks, yMinor, pts, yFmt) {
  const [x0,x1] = x.range(), [y1,y0] = y.range();
  const g = svg.append("g");
  g.append("rect").attr("x",x0).attr("y",y0).attr("width",x1-x0).attr("height",y1-y0).attr("fill","#EBEBEB");
  g.selectAll(".vminor").data(xMinor).join("line")
    .attr("x1",d=>x(d)).attr("x2",d=>x(d)).attr("y1",y0).attr("y2",y1)
    .attr("stroke","#fff").attr("stroke-width",0.6);
  g.selectAll(".hminor").data(yMinor).join("line")
    .attr("y1",d=>y(d)).attr("y2",d=>y(d)).attr("x1",x0).attr("x2",x1)
    .attr("stroke","#fff").attr("stroke-width",0.6);
  g.selectAll(".vmajor").data(xTicks.filter(d=>d>-8&&d<8)).join("line")
    .attr("x1",d=>x(d)).attr("x2",d=>x(d)).attr("y1",y0).attr("y2",y1)
    .attr("stroke","#fff").attr("stroke-width",1.2);
  g.selectAll(".hmajor").data(yTicks).join("line")
    .attr("y1",d=>y(d)).attr("y2",d=>y(d)).attr("x1",x0).attr("x2",x1)
    .attr("stroke","#fff").attr("stroke-width",1.2);
  g.append("g").selectAll("circle").data(pts).join("circle")
    .attr("cx",d=>x(d[0])).attr("cy",d=>y(d[1])).attr("r",3.6).attr("fill",PT);
  const ax = g.append("g").attr("transform",`translate(0,${y1})`)
    .call(d3.axisBottom(x).tickValues(xTicks).tickSize(4).tickPadding(4).tickFormat(d3.format("d")));
  const ay = g.append("g").attr("transform",`translate(${x0},0)`)
    .call(d3.axisLeft(y).tickValues(yTicks).tickSize(4).tickPadding(4).tickFormat(yFmt));
  [ax,ay].forEach(a=>{
    a.select(".domain").remove();
    a.selectAll(".tick line").attr("stroke","#333").attr("stroke-width",1.3);
    a.selectAll(".tick text").attr("fill","#4D4D4D").style("font-family",FONT).style("font-size","13px");
  });
}
panel(xA, yA, yTicksA, yMinorA, ptsA.concat(ptsAFill, ptsAEdge), d3.format(".1f"));
panel(xB, yB, yTicksB, yMinorB, ptsB.concat(ptsBFill, ptsBEdge), d3.format(".1f"));

function annot(x, yb, a) {
  const t = svg.append("text").attr("x",x).attr("y",yb).style("font-family",FONT).style("font-size","19px").attr("fill","#000");
  t.append("tspan").attr("font-style","italic").text("r");
  t.append("tspan").text(" = " + a.r + " ");
  t.append("tspan").attr("font-style","italic").text("P");
  t.append("tspan").text(" " + a.p);
}
annot(100, 189, annotA);
annot(97, 679, annotB);

svg.append("text").attr("x",7).attr("y",186).style("font-family",FONT).style("font-size","26px").style("font-weight","bold").text("A)");
svg.append("text").attr("x",1).attr("y",658).style("font-family",FONT).style("font-size","27px").style("font-weight","bold").text("B)");

function xTitle(cx, base) {
  const g = svg.append("g");
  const t1 = g.append("text").attr("y",base).style("font-family",FONT).style("font-size","18.5px").attr("fill","#000").text("CR");
  const t2 = g.append("text").attr("y",base+3.5).style("font-family",FONT).style("font-size","12.5px").attr("fill","#000").text("Level");
  const w1 = t1.node().getComputedTextLength(), w2 = t2.node().getComputedTextLength();
  const x0 = cx - (w1+w2)/2;
  t1.attr("x",x0); t2.attr("x",x0+w1+0.5);
  g.append("line").attr("x1",x0+w1+0.8).attr("x2",x0+w1+w2+0.3).attr("y1",base-9).attr("y2",base-9)
    .attr("stroke","#000").attr("stroke-width",1);
}
xTitle(252.5, 565);
xTitle(247.5, 1043.5);

function yTitle(xb, cy, sub) {
  const t = svg.append("text").attr("transform",`translate(${xb},${cy}) rotate(-90)`)
    .attr("text-anchor","middle").style("font-family",FONT).attr("fill","#000");
  t.append("tspan").style("font-size","18.5px").text("CR");
  t.append("tspan").style("font-size","12.5px").attr("dy",4).text(sub);
}
yTitle(28.5, 335, "Last_level");
yTitle(20.5, 818, "Slope");

const hTop = d3.scaleLinear().domain([0, d3.max(topHistCounts)]).range([130, 2.7]);
svg.append("g").selectAll("rect").data(topHistCounts).join("rect")
  .attr("x",(d,i)=>xA(topHistEdges[i])).attr("width",(d,i)=>xA(topHistEdges[i+1])-xA(topHistEdges[i]))
  .attr("y",d=>hTop(d)).attr("height",d=>130-hTop(d))
  .attr("fill","#fff").attr("stroke","#000").attr("stroke-width",1.8);

function rightHist(y, centers, counts, half, xl, wmax, lineTop, lineBot) {
  const w = d3.scaleLinear().domain([0, d3.max(counts)]).range([xl, xl+wmax]);
  const g = svg.append("g");
  g.selectAll("rect").data(counts).join("rect")
    .attr("x",xl).attr("width",d=>w(d)-xl)
    .attr("y",(d,i)=>y(centers[i]+half)).attr("height",(d,i)=>y(centers[i]-half)-y(centers[i]+half))
    .attr("fill","#fff").attr("stroke","#000").attr("stroke-width",1.8);
  g.append("line").attr("x1",xl).attr("x2",xl).attr("y1",y(lineTop)).attr("y2",y(lineBot))
    .attr("stroke","#000").attr("stroke-width",2);
}
rightHist(yA, histACenters, histACounts, 0.3, 444, 148.7, 3.9, -3.9);
rightHist(yB, histBCenters, histBCounts, 0.045, 441, 148.3, 0.585, -0.59);
</script></body></html>
